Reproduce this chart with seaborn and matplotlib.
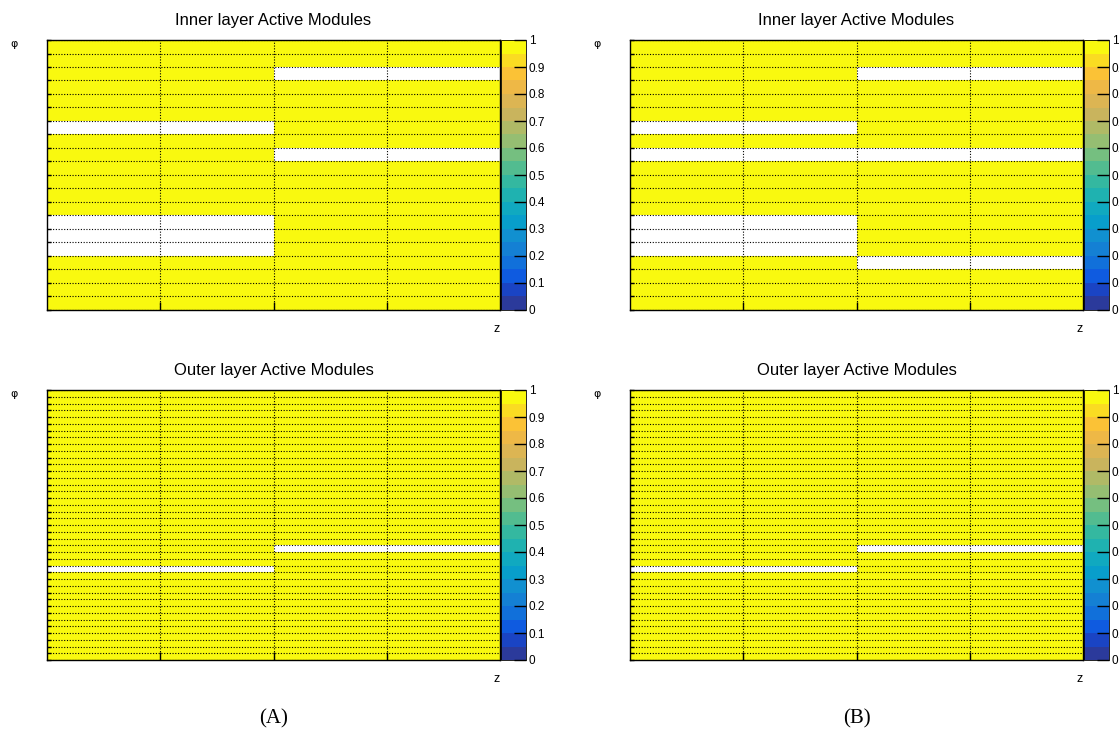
import numpy as np
import pandas as pd
import seaborn as sns
import matplotlib.pyplot as plt
from matplotlib.colors import ListedColormap
from matplotlib.ticker import FormatStrFormatter

# phi bins counted from the bottom, z halves: left / right
inner_bins = 20
outer_bins = 40
z_bins = ["z-", "z+"]

# dead (empty) modules per panel, phi bin index
inner_a_off_left = [4, 5, 6, 13]
inner_a_off_right = [11, 17]
inner_b_off_left = [4, 5, 6, 11, 13]
inner_b_off_right = [3, 11, 17]
outer_a_off_left = [13]
outer_a_off_right = [16]
outer_b_off_left = [13]
outer_b_off_right = [16]

titles = ["Inner layer Active Modules", "Outer layer Active Modules"]
captions = ["(A)", "(B)"]
cbar_ticks = [0, 0.1, 0.2, 0.3, 0.4, 0.5, 0.6, 0.7, 0.8, 0.9, 1]

bird = ListedColormap([
    "#2b3a9b", "#1a44c4", "#0f5be0", "#1170da", "#1480d4",
    "#1190d0", "#089ecb", "#10a9c0", "#1fb2b0", "#34b8a0",
    "#52bc90", "#75bf80", "#95be72", "#b0ba66", "#c9b45d",
    "#dcb553", "#eeb846", "#fbc236", "#fadc22", "#f9f90f",
])


def occupancy(n, off_left, off_right):
    df = pd.DataFrame(1.0, index=range(n), columns=z_bins)
    df.loc[off_left, "z-"] = np.nan
    df.loc[off_right, "z+"] = np.nan
    return df


panels = [
    (occupancy(inner_bins, inner_a_off_left, inner_a_off_right), 0, 0),
    (occupancy(inner_bins, inner_b_off_left, inner_b_off_right), 0, 1),
    (occupancy(outer_bins, outer_a_off_left, outer_a_off_right), 1, 0),
    (occupancy(outer_bins, outer_b_off_left, outer_b_off_right), 1, 1),
]

fig = plt.figure(figsize=(11.19, 7.38), dpi=100)
plt.rcParams["font.family"] = ["Liberation Sans", "DejaVu Sans"]

lefts = [47 / 1119, 630 / 1119]
bottoms = [1 - 310 / 738, 1 - 660 / 738]
w = 453 / 1119
h = 270 / 738

for data, row, col in panels:
    ax = fig.add_axes([lefts[col], bottoms[row], w, h])
    cax = fig.add_axes([lefts[col] + w + 1 / 1119, bottoms[row], 25 / 1119, h])
    sns.heatmap(data, ax=ax, cbar_ax=cax, cmap=bird, vmin=0, vmax=1)
    ax.invert_yaxis()
    n = len(data)
    for s in ax.spines.values():
        s.set_visible(True)
        s.set_color("black")
        s.set_linewidth(1.0)
    ax.set_xticks([0.5, 1.0, 1.5])
    ax.set_yticks(np.arange(n + 1))
    ax.set_xticklabels([])
    ax.set_yticklabels([])
    ax.set_xlabel("")
    ax.set_ylabel("")
    ax.tick_params(axis="x", direction="in", length=6, width=1, color="black")
    ax.tick_params(axis="y", direction="in", length=3, width=1, color="black")
    ax.set_axisbelow(False)
    ax.grid(True, color="black", linestyle=(0, (1, 1.5)), linewidth=0.8)
    ax.set_title(titles[row], fontsize=12, pad=11)
    ax.text(1.0, -0.07, "z", transform=ax.transAxes, ha="right", va="center", fontsize=9)
    fig.text(lefts[col] - 33 / 1119, bottoms[row] + h - 4 / 738, "φ",
             ha="center", va="center", fontsize=8, family="DejaVu Sans")

    cb = ax.collections[0].colorbar
    cb.set_ticks(cbar_ticks)
    cb.ax.yaxis.set_major_formatter(FormatStrFormatter("%g"))
    cb.ax.tick_params(direction="in", length=9, width=1, labelsize=8.5, pad=2)
    cb.outline.set_linewidth(0.6)

for col in range(2):
    fig.text(lefts[col] + w / 2, 1 - 719 / 738, captions[col], ha="center", va="center",
             fontsize=15, family="Liberation Serif")

fig.savefig("out.png", dpi=100)
